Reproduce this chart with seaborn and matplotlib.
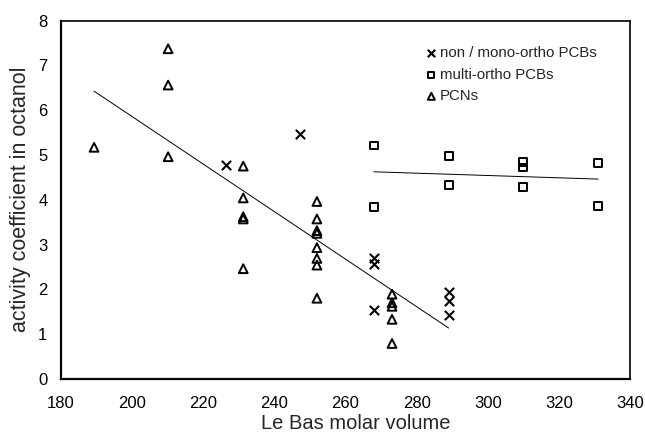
import numpy as np
import pandas as pd
import matplotlib
matplotlib.use("Agg")
import matplotlib.pyplot as plt
import seaborn as sns

# values
pcb_mono_x = [226.4, 247.3, 268.0, 268.0, 268.0, 289.0, 289.0, 289.0]
pcb_mono_y = [4.78, 5.46, 2.70, 2.57, 1.54, 1.95, 1.73, 1.42]

pcb_multi_x = [268.0, 268.0, 289.0, 289.0, 310.0, 310.0, 310.0, 331.0, 331.0]
pcb_multi_y = [5.21, 3.83, 4.98, 4.32, 4.84, 4.72, 4.28, 4.81, 3.86]

pcn_x = [189.4, 210.2, 210.2, 210.2,
         231.3, 231.3, 231.3, 231.3, 231.3,
         252.0, 252.0, 252.0, 252.0, 252.0, 252.0, 252.0, 252.0,
         273.1, 273.1, 273.1, 273.1, 273.1]
pcn_y = [5.17, 7.37, 6.56, 4.96,
         4.75, 4.04, 3.62, 3.57, 2.46,
         3.96, 3.57, 3.31, 3.25, 2.93, 2.69, 2.54, 1.80,
         1.89, 1.70, 1.62, 1.33, 0.79]

x_ticks = [180, 200, 220, 240, 260, 280, 300, 320, 340]
y_ticks = [0, 1, 2, 3, 4, 5, 6, 7, 8]

sns.set_style("white")
plt.rcParams['font.family'] = ['Liberation Sans', 'DejaVu Sans']

fig = plt.figure(figsize=(6.45, 4.37), dpi=100)
ax = fig.add_axes([0.094, 0.133, 0.883, 0.820])

groups = [
    ("non / mono-ortho PCBs", pcb_mono_x, pcb_mono_y, "x"),
    ("multi-ortho PCBs", pcb_multi_x, pcb_multi_y, "s"),
    ("PCNs", pcn_x, pcn_y, "^"),
]
for label, xs, ys, mk in groups:
    df = pd.DataFrame({"x": xs, "y": ys})
    if mk == "x":
        sns.scatterplot(data=df, x="x", y="y", marker=mk, color="black",
                        s=45, linewidth=1.5, label=label, ax=ax, zorder=3)
    elif mk == "s":
        sns.scatterplot(data=df, x="x", y="y", marker=mk, facecolor="none",
                        edgecolor="black", s=32, linewidth=1.4, label=label,
                        ax=ax, zorder=3)
    else:
        sns.scatterplot(data=df, x="x", y="y", marker=mk, facecolor="none",
                        edgecolor="black", s=40, linewidth=1.4, label=label,
                        ax=ax, zorder=3)

# trend lines: PCNs together with non/mono-ortho PCBs, and multi-ortho PCBs
lin = pd.DataFrame({"x": pcn_x + pcb_mono_x, "y": pcn_y + pcb_mono_y})
sns.regplot(data=lin, x="x", y="y", scatter=False, ci=None, ax=ax,
            line_kws={"color": "black", "linewidth": 0.7})
multi = pd.DataFrame({"x": pcb_multi_x, "y": pcb_multi_y})
sns.regplot(data=multi, x="x", y="y", scatter=False, ci=None, ax=ax,
            line_kws={"color": "black", "linewidth": 0.7})

ax.set_xlim(180, 340)
ax.set_ylim(0, 8)
ax.set_xticks(x_ticks)
ax.set_yticks(y_ticks)
ax.tick_params(direction="inout", length=7, width=0.8, labelsize=12,
               colors="black", pad=6)
ax.tick_params(axis="x", pad=9)
for side in ["left", "bottom", "top", "right"]:
    ax.spines[side].set_visible(True)
    ax.spines[side].set_color("black")
ax.spines["left"].set_linewidth(1.6)
ax.spines["bottom"].set_linewidth(1.6)
ax.spines["top"].set_linewidth(1.2)
ax.spines["right"].set_linewidth(1.2)

ax.set_xlabel("Le Bas molar volume", fontsize=14.5)
ax.xaxis.set_label_coords(0.518, -0.098)
ax.set_ylabel("activity coefficient in octanol", fontsize=15.5, labelpad=5)

leg = ax.legend(loc="upper left", bbox_to_anchor=(0.614, 0.966), frameon=False,
                fontsize=10.8, handletextpad=0.05, labelspacing=0.5,
                handlelength=1.0, markerscale=0.8)

fig.savefig("out.png", dpi=100)
